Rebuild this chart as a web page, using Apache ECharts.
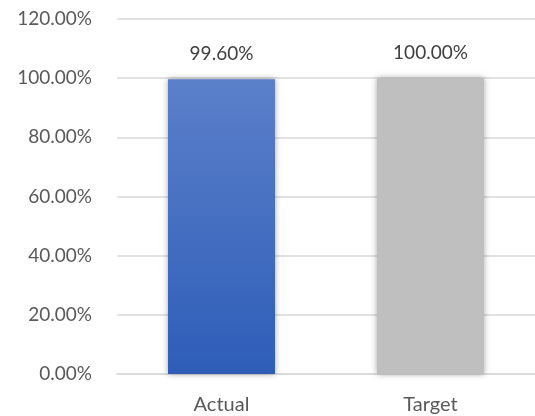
<!DOCTYPE html>
<html>
<head>
<meta charset="utf-8">
<script src="https://cdn.jsdelivr.net/npm/echarts@6/dist/echarts.min.js"></script>
<style>
  html, body { margin: 0; padding: 0; background: #fff; }
  #chart { width: 535px; height: 416px; }
</style>
</head>
<body>
<div id="chart"></div>
<script>
// Actual vs. target attainment (percent)
const categories = ['Actual', 'Target'];
const values = [99.6, 100.0];
const yTicks = [0, 20, 40, 60, 80, 100, 120];

const FONT = 'Lato, "Open Sans", sans-serif';

const barStyles = [
  {
    color: new echarts.graphic.LinearGradient(0, 0, 0, 1, [
      { offset: 0, color: '#5B80CA' },
      { offset: 1, color: '#2E5DB8' }
    ])
  },
  { color: '#BFBFBF' }
];

const chart = echarts.init(document.getElementById('chart'), null, { renderer: 'canvas' });
chart.setOption({
  animation: false,
  grid: { left: 117, right: -4, top: 19, bottom: 42 },
  xAxis: {
    type: 'category',
    data: categories,
    axisLine: { show: true, lineStyle: { color: '#D9D9D9', width: 1.5 } },
    axisTick: { show: false },
    axisLabel: { color: '#595959', fontSize: 20, fontFamily: FONT, margin: 21 }
  },
  yAxis: {
    type: 'value',
    min: yTicks[0],
    max: yTicks[yTicks.length - 1],
    interval: 20,
    axisLine: { show: false },
    axisTick: { show: false },
    splitLine: { lineStyle: { color: '#D9D9D9', width: 1.5 } },
    axisLabel: {
      color: '#595959', fontSize: 19, fontFamily: FONT, margin: 25,
      formatter: v => v.toFixed(2) + '%'
    }
  },
  series: [{
    type: 'bar',
    barWidth: 107,
    data: values.map((v, i) => ({
      value: v,
      itemStyle: Object.assign({ shadowColor: 'rgba(0,0,0,0.35)', shadowBlur: 6 }, barStyles[i])
    })),
    label: {
      show: true,
      position: 'top',
      distance: 16,
      color: '#404040',
      fontSize: 19,
      fontFamily: FONT,
      formatter: p => p.value.toFixed(2) + '%'
    }
  }]
});
</script>
</body>
</html>
